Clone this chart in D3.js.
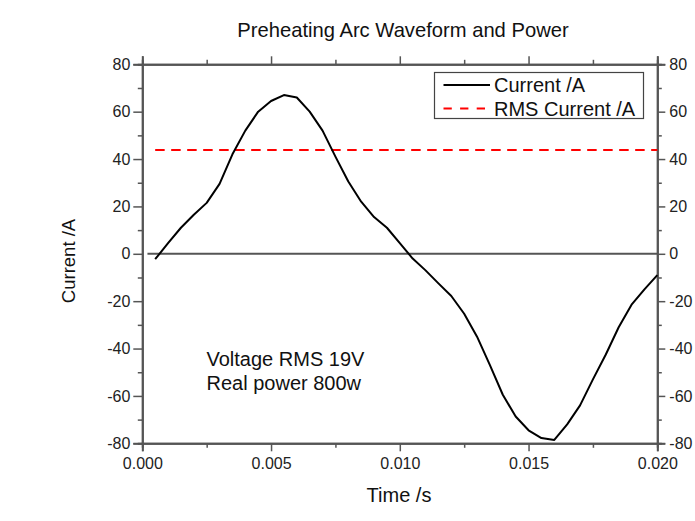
<!DOCTYPE html>
<html>
<head>
<meta charset="utf-8">
<script src="https://cdn.jsdelivr.net/npm/d3@7"></script>
<style>
  html, body { margin: 0; padding: 0; background: #ffffff; }
  svg { display: block; font-family: "Liberation Sans", Arial, sans-serif; }
</style>
</head>
<body>
<svg id="chart" width="695" height="521"></svg>
<script>
// Sampled arc current over one 20 ms cycle
const timeS = [0.0005, 0.0010, 0.0015, 0.0020, 0.0025, 0.0030, 0.0035, 0.0040, 0.0045, 0.0050,
               0.0055, 0.0060, 0.0065, 0.0070, 0.0075, 0.0080, 0.0085, 0.0090, 0.0095, 0.0100,
               0.0105, 0.0110, 0.0115, 0.0120, 0.0125, 0.0130, 0.0135, 0.0140, 0.0145, 0.0150,
               0.0155, 0.0160, 0.0165, 0.0170, 0.0175, 0.0180, 0.0185, 0.0190, 0.0195, 0.0200];
const currentA = [-2.3, 4.5, 11.0, 16.5, 21.5, 29.5, 42.0, 52.0, 60.0, 64.5,
                  67.0, 66.0, 60.0, 52.0, 41.0, 30.5, 22.0, 15.5, 11.0, 4.5,
                  -2.0, -7.0, -12.5, -17.8, -25.3, -35.0, -47.0, -59.5, -68.7, -74.5,
                  -77.8, -78.6, -72.0, -64.0, -53.0, -42.5, -31.0, -21.5, -15.0, -9.0];
// RMS level of the current
const rmsCurrent = 43.8;
const rmsSpan = [0.0005, 0.0200];

const xTicks = [0, 0.005, 0.010, 0.015, 0.020];
const yTicks = [-80, -60, -40, -20, 0, 20, 40, 60, 80];
const xMinorTicks = [0.0025, 0.0075, 0.0125, 0.0175];
const yMinorTicks = [-70, -50, -30, -10, 10, 30, 50, 70];

const titleText = "Preheating Arc Waveform and Power";
const xTitle = "Time /s";
const yTitle = "Current /A";
const legendLabels = ["Current /A", "RMS Current /A"];
const noteLines = ["Voltage RMS 19V", "Real power 800w"];

const svg = d3.select("#chart");
const plotLeft = 142.3, plotRight = 657.3, plotTop = 64.3, plotBottom = 443.3;
const axisColor = "#555555";

const x = d3.scaleLinear().domain([0, 0.02]).range([plotLeft, plotRight]);
const y = d3.scaleLinear().domain([-80, 80]).range([plotBottom, plotTop]);

// plain hyphen-minus labels
const fmtX = d => d.toFixed(3);
const fmtY = d => String(d);

function styleAxis(g) {
  g.select(".domain").attr("stroke", axisColor).attr("stroke-width", 2);
  g.selectAll(".tick line").attr("stroke", axisColor).attr("stroke-width", 1.5);
  g.selectAll(".tick text").attr("fill", "#222").style("font-size", "16px")
    .style("font-family", "'Liberation Sans', Arial, sans-serif");
}

// zero reference line
svg.append("line")
  .attr("x1", x(0.0002)).attr("x2", plotRight)
  .attr("y1", y(0)).attr("y2", y(0))
  .attr("stroke", axisColor).attr("stroke-width", 2);

// minor ticks
const minorX = (a) => a.tickValues(xMinorTicks).tickSize(4.5).tickFormat("");
const minorY = (a) => a.tickValues(yMinorTicks).tickSize(4.5).tickFormat("");

svg.append("g").attr("transform", `translate(0,${plotBottom})`).call(minorX(d3.axisBottom(x))).call(styleAxis);
svg.append("g").attr("transform", `translate(0,${plotTop})`).call(minorX(d3.axisTop(x))).call(styleAxis);
svg.append("g").attr("transform", `translate(${plotLeft},0)`).call(minorY(d3.axisLeft(y))).call(styleAxis);
svg.append("g").attr("transform", `translate(${plotRight},0)`).call(minorY(d3.axisRight(y))).call(styleAxis);

// major axes
svg.append("g").attr("transform", `translate(0,${plotBottom})`)
  .call(d3.axisBottom(x).tickValues(xTicks).tickSize(8).tickPadding(6).tickFormat(fmtX))
  .call(styleAxis);
svg.append("g").attr("transform", `translate(0,${plotTop})`)
  .call(d3.axisTop(x).tickValues(xTicks).tickSize(8).tickFormat(""))
  .call(styleAxis);
svg.append("g").attr("transform", `translate(${plotLeft},0)`)
  .call(d3.axisLeft(y).tickValues(yTicks).tickSize(9).tickPadding(3).tickFormat(fmtY))
  .call(styleAxis);
svg.append("g").attr("transform", `translate(${plotRight},0)`)
  .call(d3.axisRight(y).tickValues(yTicks).tickSize(8).tickPadding(4).tickFormat(fmtY))
  .call(styleAxis);

// RMS level
svg.append("line")
  .attr("x1", x(rmsSpan[0])).attr("x2", x(rmsSpan[1]))
  .attr("y1", y(rmsCurrent)).attr("y2", y(rmsCurrent))
  .attr("stroke", "#ff0000").attr("stroke-width", 2)
  .attr("stroke-dasharray", "9.5,6.5");

// current waveform
const pts = timeS.map((t, i) => [t, currentA[i]]);
svg.append("path")
  .datum(pts)
  .attr("fill", "none")
  .attr("stroke", "#000")
  .attr("stroke-width", 2)
  .attr("stroke-linejoin", "round")
  .attr("d", d3.line().x(d => x(d[0])).y(d => y(d[1])));

// title and axis titles
svg.append("text").attr("x", 403).attr("y", 36.5).attr("text-anchor", "middle")
  .style("font-size", "20.2px").attr("fill", "#111").text(titleText);
svg.append("text").attr("x", 399).attr("y", 501.5).attr("text-anchor", "middle")
  .style("font-size", "20px").attr("fill", "#111").text(xTitle);
svg.append("text").attr("transform", "translate(75,261) rotate(-90)").attr("text-anchor", "middle")
  .style("font-size", "18.5px").attr("fill", "#111").text(yTitle);

// legend
const lg = svg.append("g");
lg.append("rect").attr("x", 434.5).attr("y", 72.5).attr("width", 209).attr("height", 46)
  .attr("fill", "#fff").attr("stroke", "#444").attr("stroke-width", 1.2);
const legendStyles = [{ color: "#000", dash: null }, { color: "#ff0000", dash: "8.3,8.3" }];
legendLabels.forEach((lab, i) => {
  const cy = 85 + i * 23.5;
  lg.append("line").attr("x1", 443.5).attr("x2", 490).attr("y1", cy).attr("y2", cy)
    .attr("stroke", legendStyles[i].color).attr("stroke-width", 2)
    .attr("stroke-dasharray", legendStyles[i].dash);
  lg.append("text").attr("x", 494).attr("y", cy + 7.3)
    .style("font-size", "20px").attr("fill", "#111").text(lab);
});

// operating-point note
noteLines.forEach((s, i) => {
  svg.append("text").attr("x", 206.5).attr("y", 366 + i * 24.3)
    .style("font-size", "20px").attr("fill", "#111").text(s);
});
</script>
</body>
</html>
